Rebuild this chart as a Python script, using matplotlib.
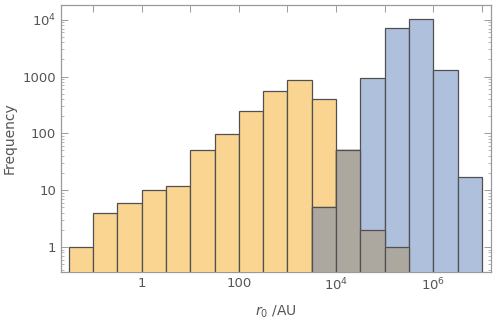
"""
    Histogram of r0 for two populations (log-log)
"""

import numpy as np
import matplotlib
matplotlib.use('Agg')
import matplotlib.pyplot as plt
from matplotlib.ticker import FixedLocator, LogLocator, NullFormatter

# bin edges in log10(r0 / AU), half-decade bins
orange_edges = [-1.5, -1.0, -0.5, 0.0, 0.5, 1.0, 1.5, 2.0, 2.5, 3.0, 3.5, 4.0, 4.5, 5.0, 5.5]
orange_counts = [1, 4, 6, 10, 12, 51, 97, 250, 550, 860, 400, 52, 2, 1]

blue_edges = [3.5, 4.0, 4.5, 5.0, 5.5, 6.0, 6.5, 7.0]
blue_counts = [5, 52, 930, 7300, 10500, 1300, 17]

x_ticks = [1, 100, 1e4, 1e6]
x_labels = ['1', '100', '$10^4$', '$10^6$']
y_ticks = [1, 10, 100, 1000, 1e4]
y_labels = ['1', '10', '100', '1000', '$10^4$']

ORANGE = '#fad592'
BLUE = '#afc0dc'
GREY = '#aca89f'
EDGE = '#505050'
TXT = '#555555'
FRAME = '#9a9a9a'


def _bars(ax, edges, counts, color):
    """ draw histogram bars on log x from log10 edges """
    left = 10 ** np.array(edges[:-1])
    right = 10 ** np.array(edges[1:])
    ax.bar(left, counts, width=right - left, align='edge', bottom=0.01,
           color=color, edgecolor=EDGE, linewidth=0.9, zorder=3)


fig = plt.figure(figsize=(4.98, 3.23), dpi=100)
ax = fig.add_axes([0.1225, 0.158, 0.8635, 0.8265])
ax.set_xscale('log')
ax.set_yscale('log')

_bars(ax, orange_edges, orange_counts, ORANGE)
_bars(ax, blue_edges, blue_counts, BLUE)

# overlap of the two series drawn in grey
start = orange_edges.index(blue_edges[0])
ov_counts = [min(o, b) for o, b in zip(orange_counts[start:], blue_counts)]
_bars(ax, blue_edges[:len(ov_counts) + 1], ov_counts, GREY)

ax.set_xlim(10 ** -1.66, 10 ** 7.19)
ax.set_ylim(10 ** -0.44, 10 ** 4.26)

ax.set_xticks(x_ticks)
ax.set_xticklabels(x_labels)
ax.xaxis.set_minor_locator(FixedLocator([10.0 ** k for k in range(-1, 8)]))
ax.xaxis.set_minor_formatter(NullFormatter())
ax.set_yticks(y_ticks)
ax.set_yticklabels(y_labels)
ax.yaxis.set_minor_locator(LogLocator(base=10, subs=np.arange(2, 10)))
ax.yaxis.set_minor_formatter(NullFormatter())

ax.tick_params(which='both', direction='in', top=True, right=True,
               colors=FRAME, labelcolor=TXT, labelsize=9.5)
ax.tick_params(which='major', length=5, width=0.7)
ax.tick_params(which='minor', length=2.5, width=0.5)
ax.tick_params(axis='x', which='minor', length=5, width=0.7)
for side in ax.spines.values():
    side.set_color(FRAME)
    side.set_linewidth(0.9)

ax.set_xlabel('$r_0$ /AU', color=TXT, fontsize=10, labelpad=7)
ax.set_ylabel('Frequency', color=TXT, fontsize=10, labelpad=4)

fig.savefig('out.png', dpi=100)
